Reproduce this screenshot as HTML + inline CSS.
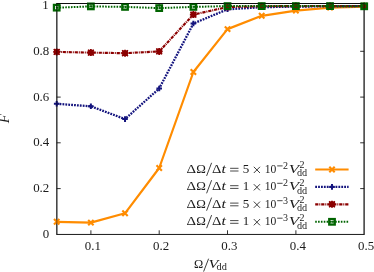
<!DOCTYPE html><html><head><meta charset="utf-8"><style>
html,body{margin:0;padding:0;background:#fff;}
body{width:374px;height:272px;position:relative;overflow:hidden;}
</style></head><body>
<svg width="374" height="272" viewBox="0 0 374 272" style="position:absolute;left:0;top:0;will-change:transform;font-family:'Liberation Serif',serif" fill="#1c1c1c">
<path d="M56.35,3.5H364.6M56.35,234.45H364.6M56.85,3.5V234.45M364.1,3.5V234.45" fill="none" stroke="#1a1a1a" stroke-width="1.0"/>
<path d="M56.7,188.6h4M364.2,188.6h-4" stroke="#1a1a1a" stroke-width="0.9"/>
<path d="M56.7,142.8h4M364.2,142.8h-4" stroke="#1a1a1a" stroke-width="0.9"/>
<path d="M56.7,97.1h4M364.2,97.1h-4" stroke="#1a1a1a" stroke-width="0.9"/>
<path d="M56.7,51.3h4M364.2,51.3h-4" stroke="#1a1a1a" stroke-width="0.9"/>
<path d="M56.7,5.6h4M364.2,5.6h-4" stroke="#1a1a1a" stroke-width="0.9"/>
<path d="M90.9,234.3v-4M90.9,3.5v4" stroke="#1a1a1a" stroke-width="0.9"/>
<path d="M159.2,234.3v-4M159.2,3.5v4" stroke="#1a1a1a" stroke-width="0.9"/>
<path d="M227.5,234.3v-4M227.5,3.5v4" stroke="#1a1a1a" stroke-width="0.9"/>
<path d="M295.9,234.3v-4M295.9,3.5v4" stroke="#1a1a1a" stroke-width="0.9"/>
<polyline points="56.7,221.8 90.9,222.6 125.0,213.3 159.2,168.0 193.4,72.0 227.5,29.1 261.7,15.8 295.9,10.6 330.0,7.6 364.2,6.6" fill="none" stroke="#ff8c00" stroke-width="2.2" stroke-linejoin="round"/>
<path d="M54.00,219.10L59.40,224.50M54.00,224.50L59.40,219.10" stroke="#ff8c00" stroke-width="2.1" fill="none"/>
<path d="M88.17,219.90L93.57,225.30M88.17,225.30L93.57,219.90" stroke="#ff8c00" stroke-width="2.1" fill="none"/>
<path d="M122.33,210.60L127.73,216.00M122.33,216.00L127.73,210.60" stroke="#ff8c00" stroke-width="2.1" fill="none"/>
<path d="M156.50,165.30L161.90,170.70M156.50,170.70L161.90,165.30" stroke="#ff8c00" stroke-width="2.1" fill="none"/>
<path d="M190.67,69.30L196.07,74.70M190.67,74.70L196.07,69.30" stroke="#ff8c00" stroke-width="2.1" fill="none"/>
<path d="M224.83,26.40L230.23,31.80M224.83,31.80L230.23,26.40" stroke="#ff8c00" stroke-width="2.1" fill="none"/>
<path d="M259.00,13.10L264.40,18.50M259.00,18.50L264.40,13.10" stroke="#ff8c00" stroke-width="2.1" fill="none"/>
<path d="M293.17,7.90L298.57,13.30M293.17,13.30L298.57,7.90" stroke="#ff8c00" stroke-width="2.1" fill="none"/>
<path d="M327.33,4.90L332.73,10.30M327.33,10.30L332.73,4.90" stroke="#ff8c00" stroke-width="2.1" fill="none"/>
<path d="M361.50,3.90L366.90,9.30M361.50,9.30L366.90,3.90" stroke="#ff8c00" stroke-width="2.1" fill="none"/>
<polyline points="56.7,103.8 90.9,106.3 125.0,119.1 159.2,88.5 193.4,23.5 227.5,9.3 261.7,7.2 295.9,6.6 330.0,6.3 364.2,6.2" fill="none" stroke="#14147e" stroke-width="2.3" stroke-dasharray="1.8,1.1"/>
<path d="M53.90,103.80L59.50,103.80M56.70,101.00L56.70,106.60" stroke="#14147e" stroke-width="2.0" fill="none"/>
<path d="M88.07,106.30L93.67,106.30M90.87,103.50L90.87,109.10" stroke="#14147e" stroke-width="2.0" fill="none"/>
<path d="M122.23,119.10L127.83,119.10M125.03,116.30L125.03,121.90" stroke="#14147e" stroke-width="2.0" fill="none"/>
<path d="M156.40,88.50L162.00,88.50M159.20,85.70L159.20,91.30" stroke="#14147e" stroke-width="2.0" fill="none"/>
<path d="M190.57,23.50L196.17,23.50M193.37,20.70L193.37,26.30" stroke="#14147e" stroke-width="2.0" fill="none"/>
<path d="M224.73,9.30L230.33,9.30M227.53,6.50L227.53,12.10" stroke="#14147e" stroke-width="2.0" fill="none"/>
<path d="M258.90,7.20L264.50,7.20M261.70,4.40L261.70,10.00" stroke="#14147e" stroke-width="2.0" fill="none"/>
<path d="M293.07,6.60L298.67,6.60M295.87,3.80L295.87,9.40" stroke="#14147e" stroke-width="2.0" fill="none"/>
<path d="M327.23,6.30L332.83,6.30M330.03,3.50L330.03,9.10" stroke="#14147e" stroke-width="2.0" fill="none"/>
<path d="M361.40,6.20L367.00,6.20M364.20,3.40L364.20,9.00" stroke="#14147e" stroke-width="2.0" fill="none"/>
<polyline points="56.7,51.9 90.9,52.6 125.0,53.2 159.2,51.4 193.4,14.6 227.5,7.0 261.7,6.3 295.9,6.1 330.0,6.0 364.2,6.0" fill="none" stroke="#8b0000" stroke-width="2.15" stroke-dasharray="3.2,0.9,1.0,0.9"/>
<rect x="53.90" y="49.10" width="5.6" height="5.6" fill="#8b0000"/><path d="M53.80,49.00L59.60,54.80M53.80,54.80L59.60,49.00" stroke="#8b0000" stroke-width="1.6" fill="none"/><path d="M53.20,51.90L60.20,51.90M56.70,48.40L56.70,55.40" stroke="#8b0000" stroke-width="1.8" fill="none"/>
<rect x="88.07" y="49.80" width="5.6" height="5.6" fill="#8b0000"/><path d="M87.97,49.70L93.77,55.50M87.97,55.50L93.77,49.70" stroke="#8b0000" stroke-width="1.6" fill="none"/><path d="M87.37,52.60L94.37,52.60M90.87,49.10L90.87,56.10" stroke="#8b0000" stroke-width="1.8" fill="none"/>
<rect x="122.23" y="50.40" width="5.6" height="5.6" fill="#8b0000"/><path d="M122.13,50.30L127.93,56.10M122.13,56.10L127.93,50.30" stroke="#8b0000" stroke-width="1.6" fill="none"/><path d="M121.53,53.20L128.53,53.20M125.03,49.70L125.03,56.70" stroke="#8b0000" stroke-width="1.8" fill="none"/>
<rect x="156.40" y="48.60" width="5.6" height="5.6" fill="#8b0000"/><path d="M156.30,48.50L162.10,54.30M156.30,54.30L162.10,48.50" stroke="#8b0000" stroke-width="1.6" fill="none"/><path d="M155.70,51.40L162.70,51.40M159.20,47.90L159.20,54.90" stroke="#8b0000" stroke-width="1.8" fill="none"/>
<rect x="190.57" y="11.80" width="5.6" height="5.6" fill="#8b0000"/><path d="M190.47,11.70L196.27,17.50M190.47,17.50L196.27,11.70" stroke="#8b0000" stroke-width="1.6" fill="none"/><path d="M189.87,14.60L196.87,14.60M193.37,11.10L193.37,18.10" stroke="#8b0000" stroke-width="1.8" fill="none"/>
<rect x="224.73" y="4.20" width="5.6" height="5.6" fill="#8b0000"/><path d="M224.63,4.10L230.43,9.90M224.63,9.90L230.43,4.10" stroke="#8b0000" stroke-width="1.6" fill="none"/><path d="M224.03,7.00L231.03,7.00M227.53,3.50L227.53,10.50" stroke="#8b0000" stroke-width="1.8" fill="none"/>
<rect x="258.90" y="3.50" width="5.6" height="5.6" fill="#8b0000"/><path d="M258.80,3.40L264.60,9.20M258.80,9.20L264.60,3.40" stroke="#8b0000" stroke-width="1.6" fill="none"/><path d="M258.20,6.30L265.20,6.30M261.70,2.80L261.70,9.80" stroke="#8b0000" stroke-width="1.8" fill="none"/>
<rect x="293.07" y="3.30" width="5.6" height="5.6" fill="#8b0000"/><path d="M292.97,3.20L298.77,9.00M292.97,9.00L298.77,3.20" stroke="#8b0000" stroke-width="1.6" fill="none"/><path d="M292.37,6.10L299.37,6.10M295.87,2.60L295.87,9.60" stroke="#8b0000" stroke-width="1.8" fill="none"/>
<rect x="327.23" y="3.20" width="5.6" height="5.6" fill="#8b0000"/><path d="M327.13,3.10L332.93,8.90M327.13,8.90L332.93,3.10" stroke="#8b0000" stroke-width="1.6" fill="none"/><path d="M326.53,6.00L333.53,6.00M330.03,2.50L330.03,9.50" stroke="#8b0000" stroke-width="1.8" fill="none"/>
<rect x="361.40" y="3.20" width="5.6" height="5.6" fill="#8b0000"/><path d="M361.30,3.10L367.10,8.90M361.30,8.90L367.10,3.10" stroke="#8b0000" stroke-width="1.6" fill="none"/><path d="M360.70,6.00L367.70,6.00M364.20,2.50L364.20,9.50" stroke="#8b0000" stroke-width="1.8" fill="none"/>
<polyline points="56.7,7.7 90.9,6.4 125.0,6.9 159.2,8.1 193.4,6.9 227.5,6.1 261.7,6.1 295.9,6.1 330.0,6.1 364.2,6.3" fill="none" stroke="#006400" stroke-width="2.0" stroke-dasharray="1.6,1.25"/>
<rect x="53.95" y="4.90" width="5.50" height="5.50" stroke="#006400" stroke-width="2.3" fill="none"/><rect x="55.90" y="6.85" width="1.6" height="1.6" fill="#006400"/>
<rect x="88.12" y="3.65" width="5.50" height="5.50" stroke="#006400" stroke-width="2.3" fill="none"/><rect x="90.07" y="5.60" width="1.6" height="1.6" fill="#006400"/>
<rect x="122.28" y="4.15" width="5.50" height="5.50" stroke="#006400" stroke-width="2.3" fill="none"/><rect x="124.23" y="6.10" width="1.6" height="1.6" fill="#006400"/>
<rect x="156.45" y="5.35" width="5.50" height="5.50" stroke="#006400" stroke-width="2.3" fill="none"/><rect x="158.40" y="7.30" width="1.6" height="1.6" fill="#006400"/>
<rect x="190.62" y="4.15" width="5.50" height="5.50" stroke="#006400" stroke-width="2.3" fill="none"/><rect x="192.57" y="6.10" width="1.6" height="1.6" fill="#006400"/>
<rect x="224.78" y="3.35" width="5.50" height="5.50" stroke="#006400" stroke-width="2.3" fill="none"/><rect x="226.73" y="5.30" width="1.6" height="1.6" fill="#006400"/>
<rect x="258.95" y="3.35" width="5.50" height="5.50" stroke="#006400" stroke-width="2.3" fill="none"/><rect x="260.90" y="5.30" width="1.6" height="1.6" fill="#006400"/>
<rect x="293.12" y="3.35" width="5.50" height="5.50" stroke="#006400" stroke-width="2.3" fill="none"/><rect x="295.07" y="5.30" width="1.6" height="1.6" fill="#006400"/>
<rect x="327.28" y="3.35" width="5.50" height="5.50" stroke="#006400" stroke-width="2.3" fill="none"/><rect x="329.23" y="5.30" width="1.6" height="1.6" fill="#006400"/>
<rect x="361.45" y="3.55" width="5.50" height="5.50" stroke="#006400" stroke-width="2.3" fill="none"/><rect x="363.40" y="5.50" width="1.6" height="1.6" fill="#006400"/>
<path d="M56.35,3.5H364.6M56.85,3.5V234.45M364.1,3.5V234.45" fill="none" stroke="#000" stroke-width="1.0" opacity="0.5"/>
<path d="M315.2,169.5H348.6" stroke="#ff8c00" stroke-width="2.2"/><path d="M329.30,166.80L334.70,172.20M329.30,172.20L334.70,166.80" stroke="#ff8c00" stroke-width="2.1" fill="none"/>
<path d="M315.2,186.9H348.6" stroke="#14147e" stroke-width="2.3" stroke-dasharray="1.8,1.1"/><path d="M329.20,186.90L334.80,186.90M332.00,184.10L332.00,189.70" stroke="#14147e" stroke-width="2.0" fill="none"/>
<path d="M315.2,204.3H348.6" stroke="#8b0000" stroke-width="2.15" stroke-dasharray="3.2,0.9,1.0,0.9"/><rect x="329.20" y="201.50" width="5.6" height="5.6" fill="#8b0000"/><path d="M329.10,201.40L334.90,207.20M329.10,207.20L334.90,201.40" stroke="#8b0000" stroke-width="1.6" fill="none"/><path d="M328.50,204.30L335.50,204.30M332.00,200.80L332.00,207.80" stroke="#8b0000" stroke-width="1.8" fill="none"/>
<path d="M315.2,221.8H348.6" stroke="#006400" stroke-width="2.0" stroke-dasharray="1.6,1.25"/><rect x="329.25" y="219.05" width="5.50" height="5.50" stroke="#006400" stroke-width="2.3" fill="none"/><rect x="331.20" y="221.00" width="1.6" height="1.6" fill="#006400"/>
<g style="filter:grayscale(1)">
<text x="49.3" y="237.9" font-size="12.9" text-anchor="end">0</text>
<text x="49.3" y="192.2" font-size="12.9" text-anchor="end">0.2</text>
<text x="49.3" y="146.4" font-size="12.9" text-anchor="end">0.4</text>
<text x="49.3" y="100.7" font-size="12.9" text-anchor="end">0.6</text>
<text x="49.3" y="54.9" font-size="12.9" text-anchor="end">0.8</text>
<text x="48.6" y="8.8" font-size="12.9" text-anchor="end">1</text>
<text x="92.8" y="250.4" font-size="12.9" text-anchor="middle">0.1</text>
<text x="161.1" y="250.4" font-size="12.9" text-anchor="middle">0.2</text>
<text x="229.4" y="250.4" font-size="12.9" text-anchor="middle">0.3</text>
<text x="297.8" y="250.4" font-size="12.9" text-anchor="middle">0.4</text>
<text x="366.1" y="250.4" font-size="12.9" text-anchor="middle">0.5</text>
<text transform="translate(8.9,123.3) rotate(-90)" font-size="13.8" font-style="italic" textLength="9" lengthAdjust="spacingAndGlyphs">F</text>
<text x="193.9" y="268.3" font-size="13.4" textLength="9.2" lengthAdjust="spacingAndGlyphs">Ω</text>
<path d="M203.6,271.6L208.6,258.7" stroke="#1c1c1c" stroke-width="0.85" fill="none"/>
<text x="208.6" y="268.3" font-size="13.2" textLength="9.8" lengthAdjust="spacingAndGlyphs" font-style="italic">V</text>
<text x="216.5" y="270.40000000000003" font-size="10.0" textLength="10.3" lengthAdjust="spacingAndGlyphs">dd</text>
<text x="186.5" y="172.8" font-size="13.4" textLength="9.6" lengthAdjust="spacingAndGlyphs">Δ</text>
<text x="196.2" y="172.8" font-size="13.4" textLength="9.6" lengthAdjust="spacingAndGlyphs">Ω</text>
<path d="M206.6,175.9L211.6,162.8" stroke="#1c1c1c" stroke-width="0.85" fill="none"/>
<text x="211.9" y="172.8" font-size="13.4" textLength="9.4" lengthAdjust="spacingAndGlyphs">Δ</text>
<text x="221.4" y="172.8" font-size="12.9" textLength="4.4" lengthAdjust="spacingAndGlyphs" font-style="italic">t</text>
<path d="M230.1,168.3H238.5M230.1,171.0H238.5" stroke="#1c1c1c" stroke-width="0.8" fill="none"/>
<text x="242.7" y="172.8" font-size="13.0">5</text>
<path d="M253.8,166.8l6.2,6.2M253.8,173.0l6.2,-6.2" stroke="#1c1c1c" stroke-width="0.85" fill="none"/>
<text x="264.7" y="172.8" font-size="13.0" textLength="11.6" lengthAdjust="spacingAndGlyphs">10</text>
<path d="M277.2,165.9h5.4" stroke="#1c1c1c" stroke-width="0.8" fill="none"/>
<text x="283.0" y="168.8" font-size="10.0">2</text>
<text x="288.7" y="172.8" font-size="13.2" textLength="10.3" lengthAdjust="spacingAndGlyphs" font-style="italic">V</text>
<text x="299.6" y="168.4" font-size="10.0">2</text>
<text x="297.0" y="176.3" font-size="10.0" textLength="10.2" lengthAdjust="spacingAndGlyphs">dd</text>
<text x="186.5" y="190.20000000000002" font-size="13.4" textLength="9.6" lengthAdjust="spacingAndGlyphs">Δ</text>
<text x="196.2" y="190.20000000000002" font-size="13.4" textLength="9.6" lengthAdjust="spacingAndGlyphs">Ω</text>
<path d="M206.6,193.3L211.6,180.2" stroke="#1c1c1c" stroke-width="0.85" fill="none"/>
<text x="211.9" y="190.20000000000002" font-size="13.4" textLength="9.4" lengthAdjust="spacingAndGlyphs">Δ</text>
<text x="221.4" y="190.20000000000002" font-size="12.9" textLength="4.4" lengthAdjust="spacingAndGlyphs" font-style="italic">t</text>
<path d="M230.1,185.7H238.5M230.1,188.4H238.5" stroke="#1c1c1c" stroke-width="0.8" fill="none"/>
<text x="242.7" y="190.20000000000002" font-size="13.0">1</text>
<path d="M253.8,184.2l6.2,6.2M253.8,190.4l6.2,-6.2" stroke="#1c1c1c" stroke-width="0.85" fill="none"/>
<text x="264.7" y="190.20000000000002" font-size="13.0" textLength="11.6" lengthAdjust="spacingAndGlyphs">10</text>
<path d="M277.2,183.3h5.4" stroke="#1c1c1c" stroke-width="0.8" fill="none"/>
<text x="283.0" y="186.20000000000002" font-size="10.0">2</text>
<text x="288.7" y="190.20000000000002" font-size="13.2" textLength="10.3" lengthAdjust="spacingAndGlyphs" font-style="italic">V</text>
<text x="299.6" y="185.8" font-size="10.0">2</text>
<text x="297.0" y="193.70000000000002" font-size="10.0" textLength="10.2" lengthAdjust="spacingAndGlyphs">dd</text>
<text x="186.5" y="207.60000000000002" font-size="13.4" textLength="9.6" lengthAdjust="spacingAndGlyphs">Δ</text>
<text x="196.2" y="207.60000000000002" font-size="13.4" textLength="9.6" lengthAdjust="spacingAndGlyphs">Ω</text>
<path d="M206.6,210.7L211.6,197.6" stroke="#1c1c1c" stroke-width="0.85" fill="none"/>
<text x="211.9" y="207.60000000000002" font-size="13.4" textLength="9.4" lengthAdjust="spacingAndGlyphs">Δ</text>
<text x="221.4" y="207.60000000000002" font-size="12.9" textLength="4.4" lengthAdjust="spacingAndGlyphs" font-style="italic">t</text>
<path d="M230.1,203.1H238.5M230.1,205.8H238.5" stroke="#1c1c1c" stroke-width="0.8" fill="none"/>
<text x="242.7" y="207.60000000000002" font-size="13.0">5</text>
<path d="M253.8,201.6l6.2,6.2M253.8,207.8l6.2,-6.2" stroke="#1c1c1c" stroke-width="0.85" fill="none"/>
<text x="264.7" y="207.60000000000002" font-size="13.0" textLength="11.6" lengthAdjust="spacingAndGlyphs">10</text>
<path d="M277.2,200.7h5.4" stroke="#1c1c1c" stroke-width="0.8" fill="none"/>
<text x="283.0" y="203.60000000000002" font-size="10.0">3</text>
<text x="288.7" y="207.60000000000002" font-size="13.2" textLength="10.3" lengthAdjust="spacingAndGlyphs" font-style="italic">V</text>
<text x="299.6" y="203.20000000000002" font-size="10.0">2</text>
<text x="297.0" y="211.10000000000002" font-size="10.0" textLength="10.2" lengthAdjust="spacingAndGlyphs">dd</text>
<text x="186.5" y="225.10000000000002" font-size="13.4" textLength="9.6" lengthAdjust="spacingAndGlyphs">Δ</text>
<text x="196.2" y="225.10000000000002" font-size="13.4" textLength="9.6" lengthAdjust="spacingAndGlyphs">Ω</text>
<path d="M206.6,228.2L211.6,215.1" stroke="#1c1c1c" stroke-width="0.85" fill="none"/>
<text x="211.9" y="225.10000000000002" font-size="13.4" textLength="9.4" lengthAdjust="spacingAndGlyphs">Δ</text>
<text x="221.4" y="225.10000000000002" font-size="12.9" textLength="4.4" lengthAdjust="spacingAndGlyphs" font-style="italic">t</text>
<path d="M230.1,220.6H238.5M230.1,223.3H238.5" stroke="#1c1c1c" stroke-width="0.8" fill="none"/>
<text x="242.7" y="225.10000000000002" font-size="13.0">1</text>
<path d="M253.8,219.1l6.2,6.2M253.8,225.3l6.2,-6.2" stroke="#1c1c1c" stroke-width="0.85" fill="none"/>
<text x="264.7" y="225.10000000000002" font-size="13.0" textLength="11.6" lengthAdjust="spacingAndGlyphs">10</text>
<path d="M277.2,218.2h5.4" stroke="#1c1c1c" stroke-width="0.8" fill="none"/>
<text x="283.0" y="221.10000000000002" font-size="10.0">3</text>
<text x="288.7" y="225.10000000000002" font-size="13.2" textLength="10.3" lengthAdjust="spacingAndGlyphs" font-style="italic">V</text>
<text x="299.6" y="220.70000000000002" font-size="10.0">2</text>
<text x="297.0" y="228.60000000000002" font-size="10.0" textLength="10.2" lengthAdjust="spacingAndGlyphs">dd</text>
</g>
</svg>
</body></html>
